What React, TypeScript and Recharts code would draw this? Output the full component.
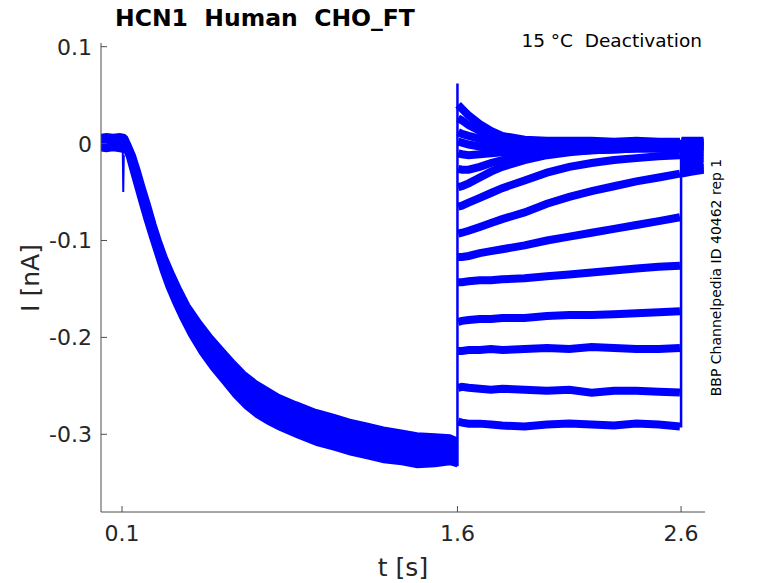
import { ComposedChart, Area, Line, XAxis, YAxis } from 'recharts';

// envelope of the overlapping activation traces (0 - 1.6 s), nA
const BAND_T = [0.006, 0.03, 0.06, 0.09, 0.112, 0.122, 0.136, 0.158, 0.18, 0.2, 0.225, 0.25, 0.275, 0.3, 0.33, 0.36, 0.4, 0.45, 0.5, 0.55, 0.6, 0.65, 0.7, 0.75, 0.8, 0.88, 0.97, 1.05, 1.12, 1.2, 1.27, 1.35, 1.42, 1.5, 1.567, 1.598];
const BAND_LO = [-0.007, -0.008, -0.007, -0.008, -0.009, -0.014, -0.026, -0.044, -0.062, -0.078, -0.097, -0.115, -0.133, -0.149, -0.165, -0.18, -0.198, -0.217, -0.233, -0.247, -0.261, -0.273, -0.282, -0.289, -0.295, -0.303, -0.311, -0.316, -0.321, -0.325, -0.329, -0.331, -0.334, -0.333, -0.331, -0.333];
const BAND_HI = [0.009, 0.01, 0.009, 0.01, 0.009, 0.007, 0.0, -0.012, -0.028, -0.044, -0.063, -0.083, -0.101, -0.117, -0.133, -0.148, -0.166, -0.183, -0.198, -0.211, -0.224, -0.236, -0.245, -0.252, -0.259, -0.267, -0.275, -0.28, -0.285, -0.289, -0.293, -0.296, -0.299, -0.3, -0.301, -0.304];

// artefact spike near 0.1 s
const SPIKE_T = [0.103, 0.1055, 0.108];
const SPIKE_V = [0.0, -0.05, -0.012];

// step edges at 1.6 s and 2.6 s
const ON_STEP_V = [-0.333, 0.062];
const OFF_STEP_V = [-0.293, 0.004];

// deactivation step traces (1.6 - 2.6 s)
const BODY_T = [1.603, 1.62, 1.65, 1.7, 1.75, 1.8, 1.9, 2.0, 2.1, 2.2, 2.3, 2.4, 2.5, 2.595];
const TRACES = [
  [0.04, 0.036, 0.029, 0.02, 0.013, 0.008, 0.004, 0.003, 0.003, 0.003, 0.002, 0.003, 0.002, 0.002],
  [0.026, 0.024, 0.019, 0.013, 0.008, 0.005, 0.002, 0.001, 0.001, 0.0, 0.001, 0.0, 0.001, 0.0],
  [0.012, 0.01, 0.008, 0.005, 0.003, 0.002, 0.0, -0.001, 0.0, -0.001, 0.0, -0.001, 0.0, -0.001],
  [0.002, 0.001, -0.001, -0.003, -0.004, -0.004, -0.003, -0.003, -0.002, -0.002, -0.002, -0.002, -0.002, -0.002],
  [-0.01, -0.011, -0.012, -0.011, -0.01, -0.009, -0.007, -0.006, -0.005, -0.005, -0.004, -0.004, -0.004, -0.004],
  [-0.026, -0.027, -0.027, -0.024, -0.02, -0.017, -0.013, -0.01, -0.008, -0.007, -0.006, -0.005, -0.005, -0.005],
  [-0.045, -0.044, -0.041, -0.035, -0.029, -0.024, -0.017, -0.012, -0.009, -0.007, -0.006, -0.005, -0.005, -0.005],
  [-0.065, -0.064, -0.061, -0.056, -0.051, -0.046, -0.038, -0.03, -0.024, -0.02, -0.017, -0.015, -0.013, -0.012],
  [-0.093, -0.092, -0.09, -0.086, -0.082, -0.078, -0.071, -0.062, -0.055, -0.049, -0.044, -0.039, -0.035, -0.031],
  [-0.117, -0.117, -0.116, -0.113, -0.111, -0.109, -0.105, -0.1, -0.096, -0.092, -0.088, -0.084, -0.08, -0.076],
  [-0.143, -0.143, -0.142, -0.141, -0.141, -0.14, -0.139, -0.137, -0.135, -0.133, -0.131, -0.129, -0.127, -0.126],
  [-0.184, -0.183, -0.182, -0.181, -0.181, -0.18, -0.18, -0.178, -0.177, -0.177, -0.176, -0.175, -0.174, -0.173],
  [-0.214, -0.214, -0.213, -0.213, -0.212, -0.213, -0.212, -0.211, -0.212, -0.21, -0.211, -0.212, -0.212, -0.211],
  [-0.252, -0.251, -0.252, -0.253, -0.254, -0.253, -0.254, -0.255, -0.254, -0.257, -0.255, -0.255, -0.256, -0.257],
  [-0.287, -0.288, -0.289, -0.289, -0.29, -0.291, -0.292, -0.29, -0.289, -0.29, -0.291, -0.289, -0.29, -0.292],
];

// tail currents after the return step
const TAIL_T = [2.602, 2.65, 2.7];
const TAILS = [
  [0.003, 0.003, 0.003],
  [0.002, 0.002, 0.002],
  [0.001, 0.001, 0.001],
  [0.0, 0.0, 0.0],
  [-0.002, -0.002, -0.002],
  [-0.004, -0.004, -0.003],
  [-0.006, -0.005, -0.005],
  [-0.008, -0.007, -0.007],
  [-0.011, -0.01, -0.009],
  [-0.014, -0.013, -0.012],
  [-0.018, -0.016, -0.015],
  [-0.022, -0.02, -0.019],
  [-0.026, -0.024, -0.022],
  [-0.029, -0.027, -0.025],
  [-0.031, -0.029, -0.027],
];

const X_TICKS = [0.1, 1.6, 2.6];
const Y_TICKS = [-0.3, -0.2, -0.1, 0, 0.1];

const BLUE = '#0000ff';
const AXIS = '#4d4d4d';
const TEXT = '#262626';
const FONT = 'DejaVu Sans';

const bandData = BAND_T.map((t, i) => ({ t, band: [BAND_LO[i], BAND_HI[i]] }));
const spikeData = SPIKE_T.map((t, i) => ({ t, v: SPIKE_V[i] }));
const onStep = ON_STEP_V.map((v) => ({ t: 1.6, v }));
const offStep = OFF_STEP_V.map((v) => ({ t: 2.6, v }));

const traceData = TRACES.map((vals, k) => [
  ...BODY_T.map((t, i) => ({ t, v: vals[i] as number | null })),
  { t: 2.598, v: null },
  ...TAIL_T.map((t, i) => ({ t, v: TAILS[k][i] as number | null })),
]);

const fmt = (v: number) => (v === 0 ? '0' : String(Number(v.toFixed(1))));

const XTick = (props: any) => {
  const { x, y, payload } = props;
  return (
    <g>
      <line x1={x} x2={x} y1={y} y2={y - 6} stroke={AXIS} />
      <text x={x} y={y + 29} textAnchor="middle" fontSize={22} fontFamily={FONT} fill={TEXT}>
        {fmt(payload.value)}
      </text>
    </g>
  );
};

const YTick = (props: any) => {
  const { x, y, payload } = props;
  return (
    <g>
      <line x1={x} x2={x + 6} y1={y} y2={y} stroke={AXIS} />
      <text x={x - 9} y={y + 8} textAnchor="end" fontSize={22} fontFamily={FONT} fill={TEXT}>
        {fmt(payload.value)}
      </text>
    </g>
  );
};

const App = () => {
  return (
    <div style={{ position: 'absolute', left: 0, top: 0, width: 778, height: 583, background: '#fff' }}>
      <ComposedChart width={778} height={583} data={bandData} margin={{ top: 43, right: 73, left: 0, bottom: 0 }}>
        <XAxis
          dataKey="t"
          type="number"
          domain={[0.006, 2.707]}
          allowDataOverflow
          ticks={X_TICKS}
          tick={<XTick />}
          tickLine={false}
          tickSize={0}
          tickMargin={0}
          height={71}
          axisLine={{ stroke: AXIS }}
        />
        <YAxis
          type="number"
          domain={[-0.3802, 0.1038]}
          allowDataOverflow
          ticks={Y_TICKS}
          tick={<YTick />}
          tickLine={false}
          tickSize={0}
          tickMargin={0}
          width={101}
          axisLine={{ stroke: AXIS }}
        />
        <Area
          dataKey="band"
          type="linear"
          stroke={BLUE}
          strokeWidth={2}
          fill={BLUE}
          fillOpacity={1}
          isAnimationActive={false}
        />
        <Line data={spikeData} dataKey="v" type="linear" stroke={BLUE} strokeWidth={2} dot={false} isAnimationActive={false} />
        <Line data={onStep} dataKey="v" type="linear" stroke={BLUE} strokeWidth={2.5} dot={false} isAnimationActive={false} />
        <Line data={offStep} dataKey="v" type="linear" stroke={BLUE} strokeWidth={2.5} dot={false} isAnimationActive={false} />
        {traceData.map((d, k) => (
          <Line
            key={`trace-${k}`}
            data={d}
            dataKey="v"
            type="linear"
            stroke={BLUE}
            strokeWidth={8}
            dot={false}
            connectNulls={false}
            isAnimationActive={false}
          />
        ))}
      </ComposedChart>
      <svg
        width={778}
        height={583}
        style={{ position: 'absolute', left: 0, top: 0, pointerEvents: 'none' }}
      >
        <text x={115} y={26} fontSize={23.5} fontWeight="bold" fontFamily={FONT} fill="#000" style={{ whiteSpace: 'pre' }}>
          HCN1  Human  CHO_FT
        </text>
        <text x={702} y={47} textAnchor="end" fontSize={18.5} fontFamily={FONT} fill="#000" style={{ whiteSpace: 'pre' }}>
          15 °C  Deactivation
        </text>
        <text
          transform="translate(716,277.5) rotate(-90)"
          textAnchor="middle"
          dominantBaseline="central"
          fontSize={14}
          fontFamily={FONT}
          fill="#000"
        >
          BBP Channelpedia ID 40462 rep 1
        </text>
        <text
          transform="translate(30,278) rotate(-90)"
          textAnchor="middle"
          dominantBaseline="central"
          fontSize={25}
          fontFamily={FONT}
          fill={TEXT}
        >
          I [nA]
        </text>
        <text x={403} y={576} textAnchor="middle" fontSize={25} fontFamily={FONT} fill={TEXT}>
          t [s]
        </text>
      </svg>
    </div>
  );
};

export default App;
